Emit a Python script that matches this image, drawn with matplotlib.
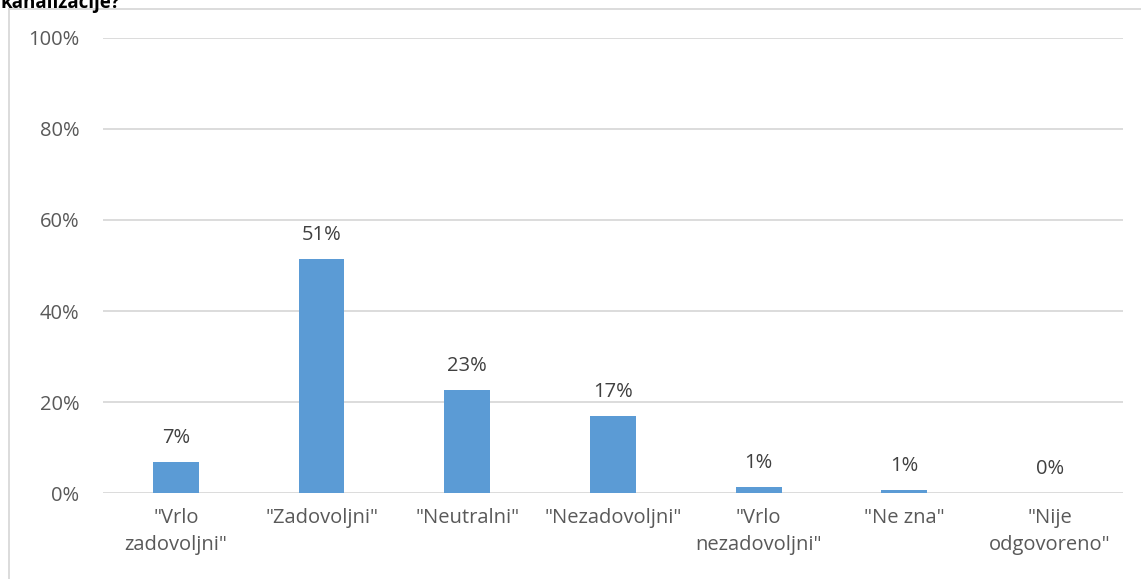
import matplotlib.pyplot as plt
from matplotlib.lines import Line2D

plt.rcParams['font.family'] = ['Open Sans', 'DejaVu Sans']

categories = ['"Vrlo\nzadovoljni"', '"Zadovoljni"', '"Neutralni"', '"Nezadovoljni"',
              '"Vrlo\nnezadovoljni"', '"Ne zna"', '"Nije\nodgovoreno"']
values = [6.8, 51.4, 22.6, 16.9, 1.3, 0.7, 0.0]
value_labels = ['7%', '51%', '23%', '17%', '1%', '1%', '0%']
yticks = [0, 20, 40, 60, 80, 100]

fig = plt.figure(figsize=(11.41, 5.79), dpi=100)
ax = fig.add_axes([0.0903, 0.1485, 0.8937, 0.7859])

x = range(len(categories))
ax.bar(x, values, width=0.315, color='#5b9bd5', zorder=3)

for i, (v, lab) in enumerate(zip(values, value_labels)):
    ax.annotate(lab, (i, v), xytext=(0, 10), textcoords='offset points',
                ha='center', va='bottom', fontsize=14.5, color='#404040')

ax.set_xlim(-0.5, len(categories) - 0.5)
ax.set_ylim(0, 100)
ax.set_yticks(yticks)
ax.set_yticklabels([f'{t}%' for t in yticks])
ax.set_xticks(list(x))
ax.set_xticklabels(categories, linespacing=1.45)
ax.tick_params(axis='both', length=0, labelsize=14.5, colors='#595959')
ax.tick_params(axis='y', pad=17)
ax.tick_params(axis='x', pad=11)
ax.grid(axis='y', color='#d9d9d9', linewidth=1.3, zorder=0)
for s in ax.spines.values():
    s.set_visible(False)

# chart area border
fig.add_artist(Line2D([0.0075, 0.0075], [0, 0.985], transform=fig.transFigure,
                      color='#d9d9d9', linewidth=1.3))
fig.add_artist(Line2D([0.0075, 1.0], [0.985, 0.985], transform=fig.transFigure,
                      color='#d9d9d9', linewidth=1.3))

# title, cropped at the top as in the original
fig.text(0.0, 0.995, 'kanalizacije?', fontsize=13.5, fontweight='bold',
         color='black', ha='left', va='center')

fig.savefig('out.png', dpi=100)
